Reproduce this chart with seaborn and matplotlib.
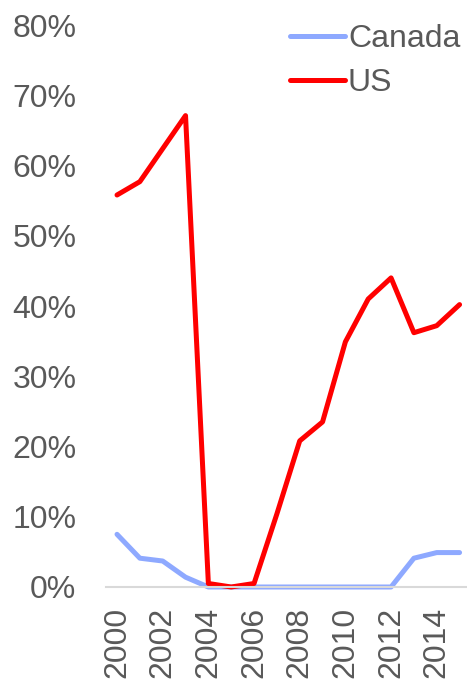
import numpy as np
import pandas as pd
import matplotlib
matplotlib.use("Agg")
import matplotlib.pyplot as plt
import seaborn as sns
from matplotlib.ticker import FuncFormatter

years = list(range(2000, 2016))
canada = [7.5, 4.1, 3.7, 1.4, 0.0, 0.0, 0.0, 0.0, 0.0, 0.0, 0.0, 0.0, 0.0, 4.1, 4.9, 4.9]
us = [55.8, 57.7, 62.4, 67.1, 0.5, 0.0, 0.5, 10.4, 20.8, 23.5, 34.9, 41.0, 44.0, 36.2, 37.2, 40.2]
series = ["Canada", "US"]
y_ticks = [0, 10, 20, 30, 40, 50, 60, 70, 80]
x_ticks = [2000, 2002, 2004, 2006, 2008, 2010, 2012, 2014]

df = pd.DataFrame({
    "year": years * 2,
    "value": canada + us,
    "country": ["Canada"] * len(years) + ["US"] * len(years),
})

sns.set_theme(style="white")
plt.rcParams["font.family"] = ["Liberation Sans", "DejaVu Sans"]

fig = plt.figure(figsize=(4.67, 6.8), dpi=100)
W, H = 467, 680
ax = fig.add_axes([105.6 / W, 1 - 587 / H, 1 - 105.6 / W, (587 - 25) / H])

palette = {"Canada": "#8EA9FF", "US": "#FF0000"}
sns.lineplot(data=df, x="year", y="value", hue="country", hue_order=series,
             palette=palette, linewidth=3.6, ax=ax, legend=True)
for ln in ax.lines:
    ln.set_solid_capstyle("round")
    ln.set_solid_joinstyle("round")
    ln.set_clip_on(False)

ax.set_xlim(1999.5, 2015.5 - (471 - 467) / 22.9)
ax.set_ylim(0, 80)
ax.set_yticks(y_ticks)
ax.yaxis.set_major_formatter(FuncFormatter(lambda v, p: f"{int(v)}%"))
ax.set_xticks(x_ticks)
ax.set_xticklabels([str(x) for x in x_ticks], rotation=90)
ax.tick_params(axis="both", colors="#595959", labelsize=23, length=0)
ax.tick_params(axis="x", pad=14)
ax.tick_params(axis="y", pad=21)
ax.set_xlabel("")
ax.set_ylabel("")
for s in ["left", "right", "top"]:
    ax.spines[s].set_visible(False)
ax.spines["bottom"].set_color("#D9D9D9")
ax.spines["bottom"].set_linewidth(1.5)

leg = ax.legend(loc="upper right", frameon=False, fontsize=23, handlelength=1.7,
                handletextpad=0.1, labelspacing=0.45, borderaxespad=0.0,
                bbox_to_anchor=(1.017, 1.025))
for t in leg.get_texts():
    t.set_color("#595959")
for h in leg.get_lines():
    h.set_linewidth(3.6)
    h.set_solid_capstyle("round")

fig.savefig("out.png", dpi=100)
